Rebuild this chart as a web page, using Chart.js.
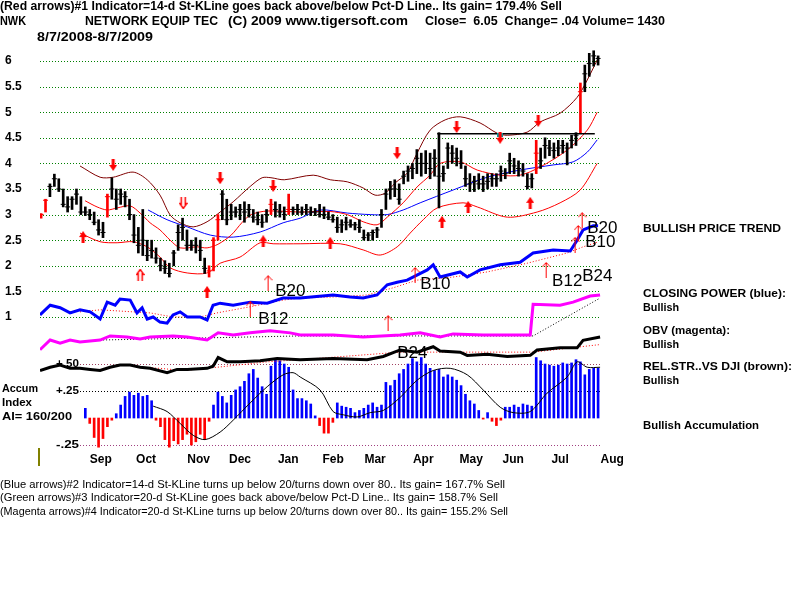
<!DOCTYPE html>
<html>
<head>
<meta charset="utf-8">
<script src="https://cdn.jsdelivr.net/npm/chart.js@4.4.0/dist/chart.umd.min.js"></script>
<style>
html, body { margin: 0; padding: 0; background: #fff; }
</style>
</head>
<body>
<canvas id="chart" width="800" height="600"></canvas>
<script>
// x values are trading-day numbers counted from 8/7/2008
var monthDays = [27, 47.5, 71.3, 90, 111.8, 132.1, 151.1, 172.9, 194.6, 213.6, 234.8, 258.4];
var monthNames = ['Sep', 'Oct', 'Nov', 'Dec', 'Jan', 'Feb', 'Mar', 'Apr', 'May', 'Jun', 'Jul', 'Aug'];
var priceTicks = [1, 1.5, 2, 2.5, 3, 3.5, 4, 4.5, 5, 5.5, 6];
var lowTicks = [0.5, 0.25, -0.25];
var lowTickLabels = ['+.50', '+.25', '-.25'];

// price bars, one every 2 trading days
var barHigh = [3.02,3.3,3.6,3.79,3.7,3.5,3.35,3.35,3.5,3.35,
  3.15,3.1,3.05,2.9,2.85,3.4,3.72,3.5,3.5,3.45,
  3.3,3.0,2.75,3.1,2.5,2.5,2.35,2.15,2.1,2.05,
  2.3,2.8,2.93,2.7,2.5,2.55,2.5,2.15,2.0,2.55,
  3.0,3.47,3.3,3.2,3.15,3.2,3.25,3.2,3.1,3.05,
  3.0,3.1,3.3,3.25,3.2,3.15,3.4,3.15,3.2,3.15,
  3.2,3.15,3.12,3.2,3.15,3.05,3.0,2.95,2.9,2.95,
  2.9,2.85,2.9,2.7,2.65,2.7,2.75,3.1,3.5,3.65,
  3.68,3.6,3.85,3.95,4.0,4.27,4.2,4.25,4.2,4.27,
  4.6,3.95,4.4,4.35,4.3,4.25,3.95,3.8,3.75,3.8,
  3.75,3.8,3.8,3.8,3.95,3.9,4.2,4.1,4.05,4.0,
  3.8,3.8,4.45,4.3,4.5,4.45,4.4,4.45,4.45,4.4,
  4.55,4.6,5.57,5.92,6.15,6.2,6.1];
var barLow = [2.93,3.05,3.35,3.55,3.45,3.15,3.05,3.1,3.2,3.0,
  2.98,2.9,2.8,2.6,2.55,2.95,3.3,3.1,3.2,3.15,
  2.9,2.45,2.25,2.2,2.1,2.15,2.05,1.9,1.85,1.78,
  2.0,2.3,2.5,2.3,2.3,2.25,2.1,1.85,1.78,1.9,
  2.5,2.9,2.8,2.9,2.95,2.9,2.85,2.95,2.85,2.8,
  2.75,2.85,3.0,2.95,2.95,2.9,3.0,3.0,3.0,3.0,
  3.0,2.98,2.98,2.95,2.92,2.9,2.85,2.65,2.65,2.7,
  2.75,2.7,2.65,2.5,2.49,2.5,2.55,2.75,3.1,3.3,
  3.35,3.2,3.6,3.65,3.7,3.8,3.75,3.8,3.7,3.75,
  3.13,3.65,3.9,4.0,3.95,3.9,3.55,3.45,3.45,3.5,
  3.45,3.5,3.55,3.55,3.65,3.7,3.8,3.8,3.75,3.75,
  3.5,3.52,3.8,3.9,4.1,4.15,4.1,4.15,4.2,3.97,
  4.3,4.35,4.6,5.4,5.7,5.9,5.92];
var barClose = [3.0,3.28,3.55,3.7,3.5,3.2,3.15,3.3,3.4,3.05,
  3.05,3.0,2.85,2.7,2.65,3.35,3.5,3.3,3.4,3.35,
  3.0,2.6,2.4,2.5,2.2,2.3,2.15,2.0,1.95,1.85,
  2.25,2.65,2.75,2.4,2.4,2.4,2.3,1.95,1.9,2.5,
  2.9,3.4,2.9,3.05,3.05,3.1,3.05,3.1,2.95,2.9,
  2.85,3.0,3.2,3.1,3.05,3.0,3.1,3.1,3.1,3.05,
  3.1,3.05,3.05,3.0,3.0,2.95,2.9,2.75,2.8,2.85,
  2.8,2.8,2.75,2.55,2.6,2.65,2.7,3.0,3.4,3.5,
  3.5,3.3,3.75,3.85,3.9,4.1,4.0,4.0,3.9,4.1,
  3.75,3.8,4.3,4.2,4.1,4.0,3.7,3.6,3.65,3.6,
  3.6,3.65,3.7,3.7,3.85,3.8,4.05,3.95,3.9,3.85,
  3.55,3.7,4.2,4.05,4.35,4.3,4.25,4.3,4.35,4.3,
  4.45,4.55,5.4,5.75,5.95,6.1,6.05];
var signalBars = [0, 1, 15, 38, 39, 40, 52, 56, 112, 122];

// accumulation index, same 2-day steps (none before bar 10)
var accum = [null,null,null,null,null,null,null,null,null,null,
  0.09,-0.05,-0.18,-0.27,-0.19,-0.08,-0.02,0.04,0.12,0.2,
  0.24,0.21,0.23,0.2,0.21,0.16,-0.02,-0.08,-0.2,-0.27,
  -0.21,-0.24,-0.2,-0.15,-0.25,-0.22,-0.15,-0.2,-0.03,0.12,
  0.24,0.2,0.14,0.21,0.26,0.29,0.34,0.41,0.45,0.37,
  0.29,0.22,0.48,0.55,0.53,0.5,0.47,0.26,0.18,0.18,
  0.16,0.13,0.02,-0.07,-0.14,-0.14,-0.04,0.14,0.11,0.1,
  0.09,0.05,0.07,0.09,0.12,0.14,0.1,0.12,0.33,0.3,
  0.35,0.41,0.45,0.5,0.55,0.52,0.56,0.5,0.46,0.44,
  0.45,0.38,0.4,0.38,0.35,0.3,0.22,0.16,0.13,0.07,
  -0.01,0.05,-0.03,-0.07,-0.02,0.1,0.1,0.12,0.1,0.13,
  0.12,0.11,0.56,0.53,0.5,0.49,0.48,0.49,0.51,0.5,
  0.51,0.54,0.52,0.4,0.45,0.46,0.46];

// bands and averages: [day, value]
var upperBand = [[17.6,3.95],[26.7,3.73],[32.6,3.73],[41.6,3.83],[48,3.68],[53.8,3.38],[58.4,2.99],[62.9,2.84],
  [68.8,2.76],[75.1,2.86],[81,3.05],[86.9,3.25],[94.6,3.55],[100,3.72],[104,3.72],[110,3.68],[123.1,3.77],
  [130.8,3.68],[138.5,3.64],[145.7,3.52],[151.1,3.38],[155.7,3.42],[160.2,3.62],[165.6,3.81],[170.1,4.2],
  [176,4.65],[182.8,4.85],[189.6,4.91],[198.6,4.79],[206.3,4.59],[210.9,4.55],[219.9,4.61],[225.8,4.81],
  [234.8,4.98],[242.5,5.29],[247.1,5.63],[251.6,6.02]];
var midBand = [[19.9,3.27],[25.3,3.15],[29.9,3.09],[34.4,3.13],[40.3,3.17],[44.8,3.03],[49.3,2.84],[53.8,2.7],
  [58.4,2.5],[62.9,2.35],[70.6,2.37],[75.1,2.35],[80,2.42],[86,2.6],[91,2.85],[95,3.0],[102.3,3.07],
  [117.2,3.05],[130.8,3.06],[138.5,3.0],[145.7,2.86],[152,2.8],[156.6,2.95],[163.8,3.23],[170.1,3.54],
  [176,3.77],[180.5,4.0],[189.6,4.03],[197.3,3.87],[207.7,3.77],[216.7,3.77],[225.8,3.93],[238,4.26],
  [247.1,4.65],[251.6,5.0]];
var lowerBand = [[17.6,2.64],[26.7,2.47],[34.4,2.45],[41.6,2.47],[48,2.37],[53.8,2.17],[58.4,1.96],[66.1,1.86],
  [75.1,1.86],[81,2.05],[90,2.17],[99.1,2.45],[105,2.43],[117.2,2.43],[135.3,2.43],[145.7,2.31],[153.4,2.21],
  [161.1,2.37],[167,2.64],[172.9,2.9],[179.2,3.13],[190.9,3.23],[197.3,3.15],[210.9,2.95],[224.4,3.05],
  [234.8,3.23],[243.9,3.48],[251.6,4.0]];
var blueAvg = [[48.4,3.09],[57,2.9],[66.1,2.76],[76.5,2.6],[86.9,2.56],[99.1,2.66],[109.5,2.84],[117.2,2.93],
  [126.2,3.09],[138.5,3.03],[148.9,3.0],[156.6,3.0],[163.8,3.09],[171.5,3.23],[186.4,3.48],[201.8,3.73],
  [216.7,3.87],[231.7,3.97],[240.7,4.03],[247.1,4.22],[251.6,4.46]];
var resistance = [[179.2,4.58],[250.5,4.58]];

// closing power and its average
var closingPower = [[-0.5,1.04],[4.1,1.23],[8.6,1.18],[13.1,1.08],[17.6,1.14],[22.2,1.1],[26.7,0.96],[29.9,1.29],
  [33.5,1.23],[35.7,1.35],[40.3,1.33],[43.4,1.08],[45.7,1.18],[48,0.96],[50.7,1.0],[53.8,0.9],[57,0.88],
  [59.7,1.04],[62.9,1.1],[66.1,1.0],[71.9,1.0],[75.1,0.94],[77.8,1.23],[81,1.27],[86.9,1.23],[94.6,1.29],
  [102.3,1.27],[109.5,1.37],[117.2,1.37],[132.1,1.43],[139.8,1.39],[145.7,1.37],[152,1.43],[156.6,1.63],
  [161.1,1.68],[165.6,1.72],[174.7,1.92],[177.4,2.02],[180.5,1.78],[189.6,1.88],[192.8,1.78],[198.6,1.92],
  [207.7,2.02],[216.7,2.07],[222.6,2.25],[231.7,2.31],[239.4,2.29],[242.5,2.5],[245.2,2.7],[249.8,2.78],[252,2.78]];
var cpAvg = [[17.6,1.1],[26.7,1.14],[41.6,1.1],[49.3,1.08],[59.7,1.0],[71.9,1.0],[79.6,1.08],[94.6,1.2],
  [109.5,1.33],[117.2,1.37],[132.1,1.39],[147.5,1.43],[159.3,1.57],[170.1,1.72],[186.4,1.78],[201.8,1.88],
  [219.9,2.05],[238,2.25],[245.2,2.37],[251.6,2.46]];

// OBV and its average
var obv = [[-0.5,0.36],[4.1,0.55],[8.6,0.49],[13.1,0.55],[17.6,0.51],[26.7,0.55],[31.2,0.63],[38.9,0.61],
  [44.8,0.57],[49.3,0.61],[59.7,0.63],[66.1,0.61],[75.1,0.55],[80.1,0.69],[86.9,0.65],[94.6,0.69],
  [103.6,0.73],[112.7,0.69],[117.2,0.65],[132.1,0.65],[145.7,0.61],[162.4,0.65],[171.5,0.69],[180.5,0.61],
  [186.4,0.67],[200,0.65],[221.3,0.65],[222.6,1.25],[234.8,1.23],[240.7,1.29],[248.4,1.41],[252.9,1.43]];
var obvAvg = [[26.7,0.55],[71.9,0.59],[117.2,0.63],[222.6,0.63],[252.9,1.37]];

// relative strength vs DJI and its average (lower scale)
var relStr = [[-0.5,0.44],[4.1,0.47],[8.6,0.49],[13.1,0.46],[17.6,0.46],[22.2,0.45],[26.7,0.44],[31.2,0.47],
  [35.7,0.49],[40.3,0.49],[44.8,0.47],[49.3,0.46],[57,0.42],[61.5,0.45],[66.1,0.45],[75.1,0.46],[77.8,0.48],
  [80.1,0.56],[84.2,0.52],[90,0.52],[99.1,0.53],[106.8,0.55],[117.2,0.54],[132.1,0.55],[147.5,0.54],
  [154.8,0.57],[162.4,0.63],[170.1,0.61],[177.4,0.66],[180.5,0.62],[189.6,0.61],[192.8,0.58],[201.8,0.59],
  [210.9,0.57],[221.3,0.58],[224.4,0.63],[234.8,0.65],[242.5,0.65],[245.2,0.72],[252.9,0.75]];
var relStrAvg = [[44.8,0.47],[53.8,0.46],[64.3,0.44],[79.6,0.47],[102.3,0.52],[117.2,0.54],[162.4,0.61],
  [222.6,0.61],[252.9,0.68]];
var accumAvg = [[50.7,0.11],[57,0.06],[62.9,-0.05],[68.8,-0.16],[74.2,-0.2],[81,-0.13],[86.9,-0.02],[94.6,0.14],
  [102.3,0.29],[109.5,0.4],[114,0.42],[117.2,0.38],[126.2,0.26],[132.1,0.06],[136.7,0.03],[143,0.01],
  [148.9,0.05],[154.8,0.07],[162.4,0.19],[170.1,0.35],[177.4,0.44],[185.1,0.46],[192.8,0.4],[200,0.26],
  [207.7,0.1],[213.6,0.05],[221.3,0.06],[228.9,0.23],[238,0.38],[242.5,0.52],[247.1,0.47],[252.9,0.47]];

// signal arrows
var sellArrows = [[32.6,3.97],[81,3.71],[105,3.56],[161.1,4.2],[188,4.71],[207.7,4.5],[224.9,4.83]];
var buyArrows = [[19,2.56],[75.1,1.49],[100.5,2.48],[130.8,2.45],[181.4,2.86],[193.2,3.15],[221.3,3.23]];
var sellDouble = [[64.3,3.23]];
var buyDouble = [[44.8,1.82]];
var thinArrows = [[102.7,1.66],[94.6,1.16],[157,0.88],[169.2,1.82],[228.5,1.92],[241.6,2.41],[243,2.64],[244.8,2.89]];
var tealMarks = [[207.7,4.56]];

var bLabels = ['B20', 'B12', 'B10', 'B12', 'B24', 'B20', 'B10', 'B24'];
var bLabelDays = [105.9, 98.2, 171.5, 231.2, 244.8, 247.1, 246.2, 161.1];
var bLabelVals = [1.51, 0.96, 1.63, 1.70, 1.80, 2.74, 2.46, 0.30];

function toXY(arr){
    return arr.map(function(p){ return {x: p[0], y: p[1]}; });
}

function makeIcon(w, h, draw){
    var c = document.createElement('canvas');
    c.width = w; c.height = h;
    var g = c.getContext('2d');
    g.fillStyle = '#ff0000';
    g.strokeStyle = '#ff0000';
    g.lineWidth = 1;
    draw(g);
    return c;
}
var iconDown = makeIcon(8, 12, function(g){
    g.fillRect(2.5, 0, 3, 7);
    g.beginPath(); g.moveTo(0, 6); g.lineTo(8, 6); g.lineTo(4, 12); g.closePath(); g.fill();
});
var iconUp = makeIcon(8, 12, function(g){
    g.fillRect(2.5, 5, 3, 7);
    g.beginPath(); g.moveTo(0, 6); g.lineTo(8, 6); g.lineTo(4, 0); g.closePath(); g.fill();
});
var iconDownDouble = makeIcon(9, 12, function(g){
    g.lineWidth = 1.5;
    g.beginPath();
    g.moveTo(2.5, 0); g.lineTo(2.5, 8); g.moveTo(6.5, 0); g.lineTo(6.5, 8);
    g.moveTo(0.5, 6); g.lineTo(4.5, 11.5); g.lineTo(8.5, 6);
    g.stroke();
});
var iconUpDouble = makeIcon(9, 12, function(g){
    g.lineWidth = 1.5;
    g.beginPath();
    g.moveTo(2.5, 12); g.lineTo(2.5, 4); g.moveTo(6.5, 12); g.lineTo(6.5, 4);
    g.moveTo(0.5, 6); g.lineTo(4.5, 0.5); g.lineTo(8.5, 6);
    g.stroke();
});
var iconThin = makeIcon(9, 16, function(g){
    g.beginPath();
    g.moveTo(4.5, 1); g.lineTo(4.5, 16);
    g.moveTo(0.5, 5); g.lineTo(4.5, 0.5); g.lineTo(8.5, 5);
    g.stroke();
});
var iconTeal = makeIcon(6, 4, function(g){
    g.fillStyle = '#00a0a0';
    g.fillRect(0, 0, 6, 4);
});

function lineSet(data, color, width, order, extra){
    var ds = {
        type: 'line',
        data: toXY(data),
        borderColor: color,
        borderWidth: width,
        pointRadius: 0,
        fill: false,
        tension: 0,
        yAxisID: 'y',
        order: order
    };
    for (var k in extra) ds[k] = extra[k];
    return ds;
}
function iconSet(data, icon, order){
    return {
        type: 'line',
        data: toXY(data),
        showLine: false,
        pointStyle: icon,
        pointRadius: 6,
        yAxisID: 'y',
        order: order
    };
}

var barColors = [];
var priceBars = [];
var closeTicks = [];
for (var i = 0; i < barHigh.length; i++)
{
    barColors[i] = signalBars.indexOf(i) >= 0 ? '#ff0000' : '#000000';
    priceBars.push({x: 2 * i, y: [barLow[i], barHigh[i]]});
    closeTicks.push({x: 2 * i, y: barClose[i]});
}
var accBars = [];
var accColors = [];
for (var j = 0; j < accum.length; j++)
{
    if (accum[j] === null) continue;
    accBars.push({x: 2 * j, y: accum[j]});
    accColors.push(accum[j] >= 0 ? '#0000ff' : '#ff0000');
}

var FONT = '"Liberation Sans", Arial, sans-serif';

function fitText(ctx, str, x, y, font, width){
    ctx.save();
    ctx.font = font;
    ctx.textBaseline = 'middle';
    ctx.textAlign = 'left';
    ctx.fillStyle = '#000';
    var s = width ? width / ctx.measureText(str).width : 1;
    ctx.translate(x, y);
    ctx.scale(s, 1);
    ctx.fillText(str, 0, 0);
    ctx.restore();
}
function dotLine(ctx, x1, x2, y, color){
    ctx.save();
    ctx.strokeStyle = color;
    ctx.lineWidth = 1;
    ctx.setLineDash([1, 2]);
    ctx.beginPath();
    ctx.moveTo(x1, Math.round(y) + 0.5);
    ctx.lineTo(x2, Math.round(y) + 0.5);
    ctx.stroke();
    ctx.restore();
}

var gridPlugin = {
    id: 'tigerGrid',
    beforeDatasetsDraw: function(chart){
        var ctx = chart.ctx;
        var xs = chart.scales.x, ys = chart.scales.y, yl = chart.scales.yLow;
        var x1 = xs.getPixelForValue(-0.5), x2 = xs.getPixelForValue(252.9);
        priceTicks.forEach(function(v){
            dotLine(ctx, x1, x2, ys.getPixelForValue(v), '#008000');
        });
        var lowColors = ['#a04060', '#000000', '#a04080'];
        lowTicks.forEach(function(v, i){
            dotLine(ctx, xs.getPixelForValue(17.6), x2, yl.getPixelForValue(v), lowColors[i]);
        });
    },
    afterDraw: function(chart){
        var ctx = chart.ctx;
        var xs = chart.scales.x, ys = chart.scales.y, yl = chart.scales.yLow;
        var B = 'bold 12px ' + FONT, R = '11px ' + FONT, Bs = 'bold 11.5px ' + FONT;
        fitText(ctx, '(Red arrows)#1 Indicator=14-d St-KLine goes back above/below Pct-D Line.. Its gain= 179.4% Sell', 0, 7, B, 562);
        fitText(ctx, 'NWK', 0, 22, B, 26);
        fitText(ctx, 'NETWORK EQUIP TEC', 85, 22, B, 133);
        fitText(ctx, '(C) 2009 www.tigersoft.com', 228, 22, B, 180);
        fitText(ctx, 'Close=  6.05  Change= .04 Volume= 1430', 425, 22, B, 240);
        fitText(ctx, '8/7/2008-8/7/2009', 37, 38, B, 116);

        fitText(ctx, 'BULLISH PRICE TREND', 643, 229, Bs, 138);
        fitText(ctx, 'CLOSING POWER (blue):', 643, 294, Bs, 143);
        fitText(ctx, 'Bullish', 643, 308, Bs, 36);
        fitText(ctx, 'OBV (magenta):', 643, 331, Bs, 87);
        fitText(ctx, 'Bullish', 643, 345, Bs, 36);
        fitText(ctx, 'REL.STR..VS DJI (brown):', 643, 367, Bs, 149);
        fitText(ctx, 'Bullish', 643, 381, Bs, 36);
        fitText(ctx, 'Bullish Accumulation', 643, 426, Bs, 116);

        fitText(ctx, 'Accum', 2, 389, Bs, 36);
        fitText(ctx, 'Index', 2, 403, Bs, 30);
        fitText(ctx, 'AI= 160/200', 2, 417, Bs, 70);
        lowTicks.forEach(function(v, i){
            fitText(ctx, lowTickLabels[i], 56, yl.getPixelForValue(v), Bs, 23);
        });

        fitText(ctx, '(Blue arrows)#2 Indicator=14-d St-KLine turns up below 20/turns down over 80.. Its gain= 167.7% Sell', 0, 485, R, 505);
        fitText(ctx, '(Green arrows)#3 Indicator=20-d St-KLine goes back above/below Pct-D Line.. Its gain= 158.7% Sell', 0, 498, R, 498);
        fitText(ctx, '(Magenta arrows)#4 Indicator=20-d St-KLine turns up below 20/turns down over 80.. Its gain= 155.2% Sell', 0, 512, R, 508);

        ctx.save();
        ctx.font = '17px ' + FONT;
        ctx.textBaseline = 'middle';
        ctx.fillStyle = '#000';
        bLabels.forEach(function(t, i){
            ctx.fillText(t, xs.getPixelForValue(bLabelDays[i]), ys.getPixelForValue(bLabelVals[i]));
        });
        ctx.fillStyle = '#808000';
        ctx.fillRect(38, 448, 2, 18);
        ctx.restore();
    }
};

var ctx = document.getElementById('chart').getContext('2d');
var chart = new Chart(ctx, {
    type: 'line',
    data: {
        datasets: [
            iconSet(sellArrows, iconDown, 1),
            iconSet(buyArrows, iconUp, 1),
            iconSet(sellDouble, iconDownDouble, 1),
            iconSet(buyDouble, iconUpDouble, 1),
            iconSet(thinArrows, iconThin, 1),
            iconSet(tealMarks, iconTeal, 1),
            {
                type: 'line', data: closeTicks, showLine: false,
                pointStyle: 'line', pointRadius: 2.5, pointBorderWidth: 1,
                pointBorderColor: barColors, yAxisID: 'y', order: 2
            },
            {
                type: 'bar', data: priceBars, backgroundColor: barColors,
                barThickness: 2, grouped: false, yAxisID: 'y', order: 3
            },
            lineSet(resistance, '#000000', 1.5, 4),
            lineSet(upperBand, '#800000', 1, 5, {tension: 0.3}),
            lineSet(midBand, '#ff0000', 1, 5, {tension: 0.3}),
            lineSet(lowerBand, '#ff0000', 1, 5, {tension: 0.3}),
            lineSet(blueAvg, '#0000ff', 1, 5, {tension: 0.3}),
            lineSet(closingPower, '#0000ff', 3, 6),
            lineSet(cpAvg, '#ff0000', 1, 7, {borderDash: [1, 2]}),
            lineSet(obv, '#ff00ff', 3, 6),
            lineSet(obvAvg, '#000000', 1, 7, {borderDash: [1, 2]}),
            lineSet(relStr, '#000000', 3, 6, {yAxisID: 'yLow'}),
            lineSet(relStrAvg, '#ff0000', 1, 7, {borderDash: [1, 2], yAxisID: 'yLow'}),
            lineSet(accumAvg, '#000000', 1, 8, {yAxisID: 'yLow', tension: 0.3}),
            {
                type: 'bar', data: accBars, backgroundColor: accColors,
                barThickness: 2, grouped: false, yAxisID: 'yLow', order: 9
            }
        ]
    },
    options: {
        responsive: false,
        animation: false,
        events: [],
        layout: { padding: { left: 5, top: 46, right: 184, bottom: 130 } },
        plugins: { legend: { display: false }, tooltip: { enabled: false } },
        scales: {
            x: {
                type: 'linear',
                min: -0.5,
                max: 260.1,
                offset: false,
                grid: { display: false, drawTicks: false },
                border: { display: false },
                afterBuildTicks: function(scale){
                    scale.ticks = monthDays.map(function(v){ return {value: v}; });
                },
                afterFit: function(scale){ scale.height = 20; },
                ticks: {
                    autoSkip: false,
                    maxRotation: 0,
                    padding: 2,
                    color: '#000',
                    font: { family: FONT, size: 12, weight: 'bold' },
                    callback: function(v, i){ return monthNames[i]; }
                }
            },
            y: {
                type: 'linear',
                position: 'left',
                min: -1.598,
                max: 6.293,
                grid: { display: false },
                border: { display: false },
                afterBuildTicks: function(scale){
                    scale.ticks = priceTicks.map(function(v){ return {value: v}; });
                },
                afterFit: function(scale){ scale.width = 35; },
                ticks: {
                    crossAlign: 'far',
                    padding: 0,
                    color: '#000',
                    font: { family: FONT, size: 12, weight: 'bold' },
                    callback: function(v){ return String(v); }
                }
            },
            yLow: {
                type: 'linear',
                display: false,
                min: -0.296,
                max: 3.444
            }
        }
    },
    plugins: [gridPlugin]
});
</script>
</body>
</html>
